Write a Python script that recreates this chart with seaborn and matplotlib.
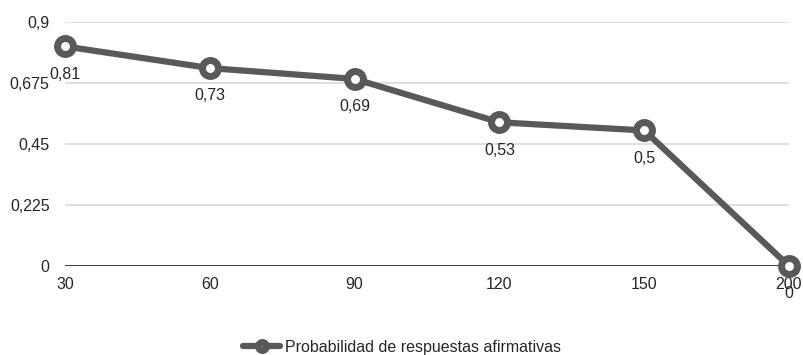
import pandas as pd
import seaborn as sns
import matplotlib.pyplot as plt


categories = ["30", "60", "90", "120", "150", "200"]
values = [0.81, 0.73, 0.69, 0.53, 0.5, 0.0]
value_labels = ["0,81", "0,73", "0,69", "0,53", "0,5", "0"]
y_ticks = [0, 0.225, 0.45, 0.675, 0.9]
y_tick_labels = ["0", "0,225", "0,45", "0,675", "0,9"]
series_name = "Probabilidad de respuestas afirmativas"

df = pd.DataFrame({"x": range(len(categories)), "y": values})

sns.set_style("white")
plt.rcParams["font.family"] = ["Liberation Sans", "DejaVu Sans"]

line_color = "#595959"
text_color = "#262626"

fig = plt.figure(figsize=(8.04, 3.55), dpi=100)
ax = fig.add_axes([65 / 804, 1 - 266 / 355, (789 - 65) / 804, (266 - 22) / 355])

sns.lineplot(
    data=df, x="x", y="y", ax=ax,
    color=line_color, linewidth=4.5,
    marker="o", markersize=11.5, markeredgewidth=5,
    markerfacecolor="white", markeredgecolor=line_color,
    label=series_name, legend=False, clip_on=False, zorder=5,
)

# data labels sit under each point, like the spreadsheet chart
for xi, yi, lab in zip(df["x"], df["y"], value_labels):
    ax.annotate(lab, (xi, yi), xytext=(0, -20), textcoords="offset points",
                ha="center", va="center", fontsize=11.5, color=text_color,
                annotation_clip=False)

ax.set_xlim(0, len(categories) - 1)
ax.set_ylim(0, 0.9)
ax.set_xticks(range(len(categories)))
ax.set_xticklabels(categories)
ax.set_yticks(y_ticks)
ax.set_yticklabels(y_tick_labels)
ax.tick_params(axis="both", length=0, labelsize=11.5, colors=text_color)
ax.tick_params(axis="y", pad=11)
ax.tick_params(axis="x", pad=8)
ax.set_xlabel("")
ax.set_ylabel("")

for yt in y_ticks[1:]:
    ax.axhline(yt, color="#d9d9d9", linewidth=1.2, zorder=0)
ax.axhline(0, color="#1a1a1a", linewidth=1.2, zorder=1)

for s in ax.spines.values():
    s.set_visible(False)

handles, labels = ax.get_legend_handles_labels()
fig.legend(handles, labels, loc="lower center", bbox_to_anchor=(0.5, -0.04),
           frameon=False, fontsize=11.5, handlelength=2.3, handletextpad=0.3,
           markerscale=0.5)

fig.savefig("out.png", dpi=100)
